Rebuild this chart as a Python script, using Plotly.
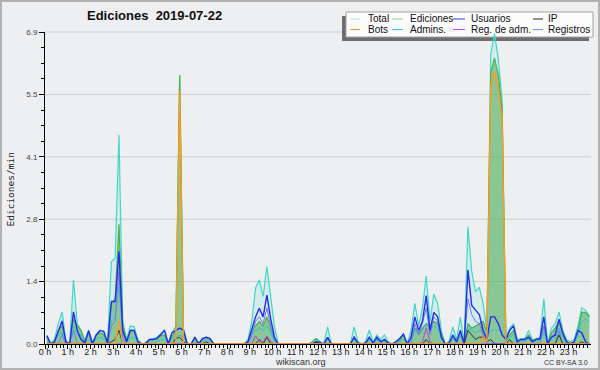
import plotly.graph_objects as go

# ---------------- data (10-minute samples, edits per minute) ----------------
slot = list(range(144))
times = [(s + 0.5) / 6 for s in slot]  # hour of day at bin centre

total = [
 .20,.02,.10,.45,.71,.08,  .00,1.42,.45,.30,.08,.30,
 .05,.20,.30,.25,.05,1.82, 1.90,4.62,.50,.10,.40,.38,
 .10,.00,.02,.10,.12,.15,  .22,.32,.02,.25,.40,5.95,
 .35,.00,.00,.15,.02,.12,  .15,.12,.00,.00,.00,.00,
 .00,.00,.00,.00,.00,.10,  .50,1.24,1.42,1.05,1.71,1.05,
 .38,.00,.00,.00,.00,.00,  .00,.00,.00,.00,.05,.12,
 .05,.00,.38,.00,.00,.00,  .00,.00,.00,.38,.05,.00,
 .05,.31,.05,.20,.10,.20,  .05,.00,.05,.12,.22,.00,
 .30,.90,.40,.80,1.50,.50, 1.10,.90,.30,.00,.05,.38,
 .10,.60,.00,2.60,1.60,1.16, 1.25,.90,.30,6.40,6.87,6.30,
 5.40,.15,.35,.45,.10,.12, .12,.30,.10,.12,.15,1.00,
 .00,.35,.45,.71,.30,.10,  .05,.10,.40,.80,.75,.62,
]
ediciones = [
 .15,.00,.05,.30,.40,.05,  .00,.55,.40,.30,.05,.25,
 .02,.18,.25,.20,.03,.90,  1.00,2.65,.40,.08,.30,.30,
 .05,.00,.02,.10,.10,.12,  .18,.20,.02,.15,.30,5.95,
 .30,.00,.00,.15,.02,.10,  .15,.10,.00,.00,.00,.00,
 .00,.00,.00,.00,.00,.05,  .30,.40,.50,.40,.60,.35,
 .10,.00,.00,.00,.00,.00,  .00,.00,.00,.00,.05,.12,
 .05,.00,.15,.00,.00,.00,  .00,.00,.00,.15,.02,.00,
 .02,.15,.02,.12,.05,.10,  .02,.00,.03,.08,.18,.00,
 .15,.35,.25,.35,.45,.40,  .50,.45,.20,.00,.02,.15,
 .05,.20,.00,.45,.35,.40,  .46,.50,.25,6.00,6.32,5.95,
 5.20,.10,.20,.30,.05,.10, .10,.20,.08,.10,.12,.40,
 .00,.25,.35,.50,.20,.05,  .02,.05,.30,.70,.70,.60,
]
usuarios = [
 .18,.00,.05,.30,.51,.05,  .00,.71,.30,.10,.02,.30,
 .00,.20,.30,.28,.02,.94,  .94,2.05,.30,.05,.30,.30,
 .05,.00,.00,.10,.10,.12,  .20,.30,.00,.25,.30,.35,
 .30,.00,.00,.15,.00,.12,  .15,.12,.00,.00,.00,.00,
 .00,.00,.00,.00,.00,.05,  .35,.60,.79,.60,1.08,.55,
 .15,.00,.00,.00,.00,.00,  .00,.00,.00,.00,.00,.05,
 .02,.00,.15,.00,.00,.00,  .00,.00,.00,.15,.02,.00,
 .02,.15,.02,.15,.05,.10,  .02,.00,.05,.12,.22,.00,
 .15,.60,.30,.50,1.07,.30, .70,.60,.15,.00,.02,.20,
 .05,.30,.00,1.64,.85,.75, .65,.30,.10,.60,.60,.45,
 .20,.10,.30,.40,.05,.10,  .10,.15,.05,.10,.12,.60,
 .00,.15,.20,.55,.25,.05,  .00,.05,.30,.25,.05,.00,
]
ip = [
 .02,0,0,0,0,0,  0,0,0,0,0,0,
 0,0,0,0,0,.05,  .10,.30,0,0,0,0,
 0,0,0,0,0,0,  0,0,0,0,.12,.15,
 .05,0,0,0,0,0,  .05,0,0,0,0,0,
 0,0,0,0,0,0,  0,0,.10,0,.15,0,
 0,0,0,0,0,0,  0,0,0,0,0,.05,
 0,0,0,0,0,0,  0,0,0,0,0,0,
 0,0,0,0,0,0,  0,0,0,0,0,0,
 0,0,0,0,.10,0,  0,0,0,0,0,0,
 0,0,0,.30,.20,.10,  .15,.15,.05,.10,0,0,
 0,0,.10,0,0,0,  0,0,0,0,0,0,
 0,0,0,.20,0,0,  0,0,0,.05,0,0,
]
bots = [0.0] * 144
for k, v in [(19, .50), (34, .05), (35, 5.60), (115, .15), (116, .05),
             (117, 5.70), (118, 6.02), (119, 5.60), (120, 5.00)]:
    bots[k] = v
admins = [
 .08,.00,.03,.20,.25,.03,  .00,.40,.20,.20,.03,.10,
 .00,.10,.15,.10,.00,.50,  .60,1.30,.20,.03,.15,.15,
 .03,.00,.00,.05,.05,.05,  .10,.10,.00,.10,.15,.20,
 .15,.00,.00,.05,.00,.05,  .10,.05,.00,.00,.00,.00,
 .00,.00,.00,.00,.00,.03,  .20,.30,.35,.30,.40,.25,
 .05,.00,.00,.00,.00,.00,  .00,.00,.00,.00,.05,.10,
 .05,.00,.10,.00,.00,.00,  .00,.00,.00,.10,.00,.00,
 .00,.10,.00,.08,.03,.08,  .00,.00,.02,.05,.10,.00,
 .10,.30,.20,.30,.45,.30,  .40,.35,.10,.00,.00,.10,
 .00,.25,.00,.35,.30,.25,  .30,.30,.15,.30,.30,.30,
 .25,.05,.15,.20,.00,.05,  .05,.10,.05,.05,.08,.25,
 .00,.10,.15,.35,.15,.00,  .00,.03,.20,.50,.55,.50,
]
regadm = [0.0] * 144
for k, v in [(55, .18), (56, .05), (57, .05), (58, .18), (59, .05),
             (99, .05), (100, .35), (101, .05)]:
    regadm[k] = v
registros = [0.0] * 144
for k, v in [(4, .20), (7, .30), (17, .40), (18, .50), (19, 1.60), (20, .10),
             (54, .20), (55, .50), (56, .60), (57, .45), (58, .80), (59, .40), (60, .10),
             (97, .45), (98, .20), (99, .45), (100, .80), (101, .20),
             (102, .60), (103, .50), (104, .15),
             (109, .30), (111, 1.00), (112, .65), (113, .50), (114, .45), (115, .20),
             (131, .40), (135, .30)]:
    registros[k] = v

YMAX = 6.9
YSTEP = YMAX / 5

# ---------------- layout geometry ----------------
W, H = 600, 370
ML, MR, MT, MB = 45, 9, 32, 26
PW, PH = W - ML - MR, H - MT - MB
BG = "#eeeff1"
FONT = "Liberation Sans, Arial, sans-serif"


def fx(px):
    return (px - ML) / PW


def fy(py):
    return (H - MB - py) / PH


fig = go.Figure()

series = [
    ("Total", total, "#3fd8c8", 1.2, "rgba(64,224,208,0.16)"),
    ("Ediciones", ediciones, "#4fae4f", 1.2, "rgba(80,170,80,0.55)"),
    ("Admins.", admins, "#2cc2de", 1.0, None),
    ("Registros", registros, "#7878ee", 1.0, None),
    ("Usuarios", usuarios, "#2a2aef", 1.4, None),
    ("IP", ip, "#333333", 1.0, None),
    ("Reg. de adm.", regadm, "#c23fd6", 1.0, None),
    ("Bots", bots, "#ff9a1f", 1.4, None),
]
for name, vals, col, wd, fc in series:
    kw = dict(fill="tozeroy", fillcolor=fc) if fc else {}
    fig.add_trace(go.Scatter(x=times, y=vals, name=name, mode="lines",
                             line=dict(color=col, width=wd, shape="linear"),
                             showlegend=False, hoverinfo="skip", **kw))

shapes = []
# horizontal grid lines (drawn below so the legend box covers them)
k = 1
while k * YSTEP <= YMAX + 1e-9:
    shapes.append(dict(type="line", xref="paper", yref="paper", x0=0, x1=1,
                       y0=k * YSTEP / YMAX, y1=k * YSTEP / YMAX,
                       line=dict(color="#cdcdcd", width=1), layer="below"))
    k += 1

# legend box with shadow
shapes.append(dict(type="rect", xref="paper", yref="paper",
                   x0=fx(342), x1=fx(589), y0=fy(41), y1=fy(16),
                   fillcolor="#6e6e6e", line=dict(width=0), layer="below"))
shapes.append(dict(type="rect", xref="paper", yref="paper",
                   x0=fx(346), x1=fx(593), y0=fy(37), y1=fy(12),
                   fillcolor="#fcfcfc", line=dict(color="#a0a0a0", width=1), layer="below"))

legend_rows = [
    [("Total", "#a9e7e0"), ("Ediciones", "#8dcf8d"), ("Usuarios", "#3a3ae6"), ("IP", "#222222")],
    [("Bots", "#ff9a33"), ("Admins.", "#35c6dc"), ("Reg. de adm.", "#cc44dd"), ("Registros", "#8282ee")],
]
cols = [(350, 360, 366), (392, 403, 408), (453, 465, 469), (533, 543, 546)]
rows_y = [19, 29.5]
annotations = []
for r, row in enumerate(legend_rows):
    for c, (lab, col) in enumerate(row):
        x0, x1, tx = cols[c]
        yy = rows_y[r]
        shapes.append(dict(type="line", xref="paper", yref="paper",
                           x0=fx(x0), x1=fx(x1), y0=fy(yy), y1=fy(yy),
                           line=dict(color=col, width=1), layer="below"))
        annotations.append(dict(text=lab, xref="paper", yref="paper", x=fx(tx), y=fy(yy),
                                xanchor="left", yanchor="middle", showarrow=False,
                                font=dict(family=FONT, size=10, color="#111111")))

# outer frame
shapes.append(dict(type="rect", xref="paper", yref="paper",
                   x0=fx(1), x1=fx(599), y0=fy(369), y1=fy(1),
                   line=dict(color="#b2b2b2", width=2), layer="above"))

annotations += [
    dict(text="<b>Ediciones\u00a0\u00a02019-07-22</b>", xref="paper", yref="paper",
         x=fx(154), y=fy(16), xanchor="center", yanchor="middle", showarrow=False,
         font=dict(family=FONT, size=13, color="#111111")),
    dict(text="Ediciones/min", xref="paper", yref="paper", x=fx(9.5), y=fy(190),
         xanchor="center", yanchor="middle", textangle=-90, showarrow=False,
         font=dict(family="DejaVu Sans Mono, monospace", size=9.5, color="#222222")),
    dict(text="wikiscan.org", xref="paper", yref="paper", x=fx(300), y=fy(361.5),
         xanchor="center", yanchor="middle", showarrow=False,
         font=dict(family=FONT, size=9, color="#333333")),
    dict(text="CC BY-SA 3.0", xref="paper", yref="paper", x=fx(590), y=fy(362.5),
         xanchor="right", yanchor="middle", showarrow=False,
         font=dict(family=FONT, size=7, color="#333333")),
]

fig.update_layout(
    width=W, height=H, autosize=False,
    margin=dict(l=ML, r=MR, t=MT, b=MB, pad=0),
    paper_bgcolor=BG, plot_bgcolor=BG,
    showlegend=False,
    shapes=shapes, annotations=annotations,
    xaxis=dict(range=[0, 23.99], tickmode="linear", tick0=0, dtick=1,
               tickformat="d", ticksuffix=" h",
               ticks="outside", ticklen=4, tickwidth=1, tickcolor="black",
               ticklabelstandoff=-5,
               minor=dict(dtick=1 / 6, ticks="outside", ticklen=2.5, tickwidth=1, tickcolor="black"),
               showline=True, linecolor="black", linewidth=1,
               showgrid=False, zeroline=False, fixedrange=True,
               tickfont=dict(family=FONT, size=9, color="#222222")),
    yaxis=dict(range=[0, YMAX], tickmode="linear", tick0=0, dtick=YSTEP,
               tickformat=".1f",
               ticks="outside", ticklen=5, tickwidth=1, tickcolor="black",
               minor=dict(dtick=YSTEP / 4, ticks="outside", ticklen=3, tickwidth=1, tickcolor="black"),
               showline=True, linecolor="black", linewidth=1,
               showgrid=False, zeroline=False, fixedrange=True,
               tickfont=dict(family=FONT, size=8, color="#444444")),
)

fig.write_html("out.html")
